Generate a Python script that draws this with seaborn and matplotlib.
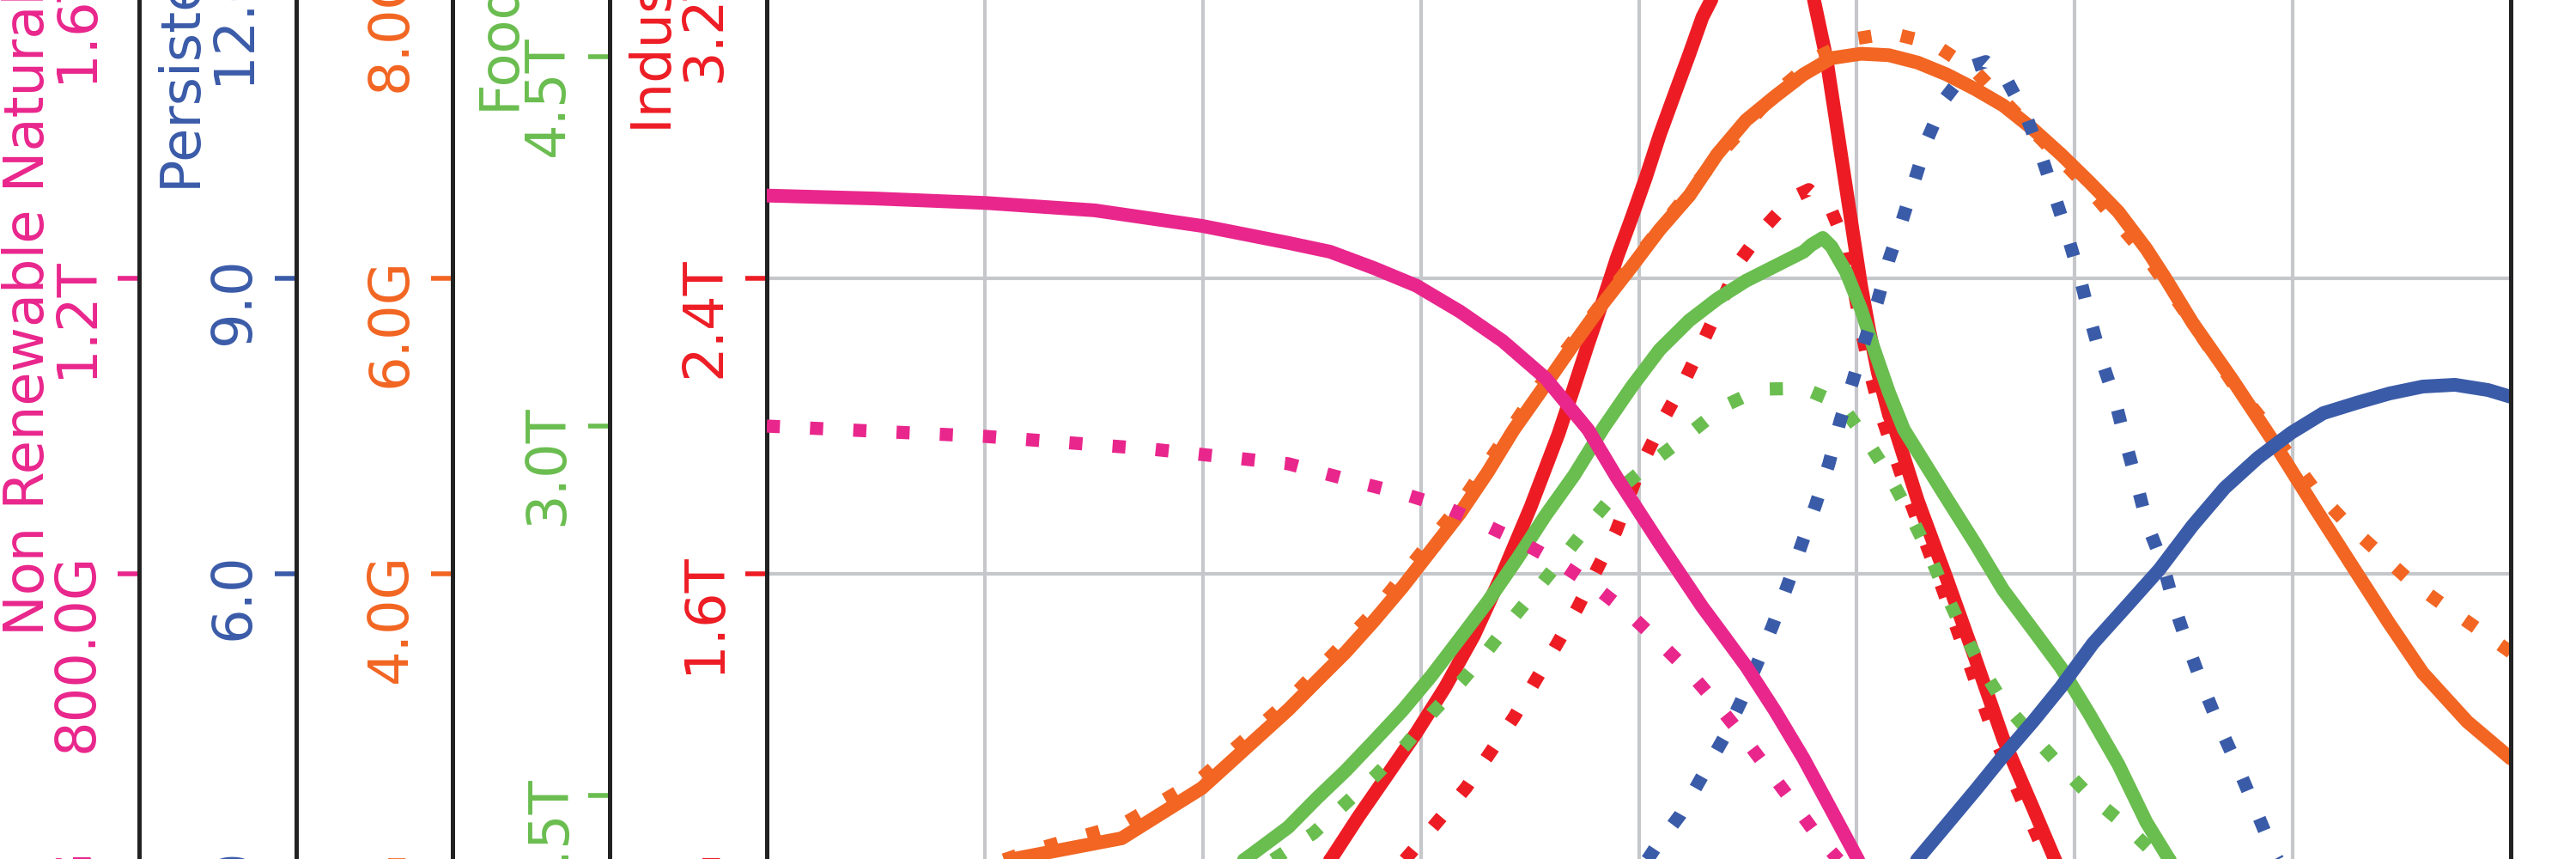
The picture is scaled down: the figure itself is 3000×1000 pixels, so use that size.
import numpy as np
import matplotlib
matplotlib.use("Agg")
import matplotlib.pyplot as plt
import seaborn as sns
from matplotlib.ticker import EngFormatter, MultipleLocator

sns.set_theme(style="white")
plt.rcParams['font.family'] = ['DejaVu Sans']

# industrial output (T$), solid run and dotted run
io_years = [1900, 1925, 1950, 1960, 1964.7, 1967.9, 1971.3, 1974.5, 1977.8, 1981.1, 1984.4, 1987.6,
            1990.8, 1992.6, 1994.2, 1995.9, 1997.5, 1999.2, 2000.8, 2002.4, 2004.1, 2005.8, 2007.3,
            2008.3, 2010, 2012, 2014.5, 2016.5, 2018, 2019, 2020.1, 2021.5, 2022.5, 2023.5, 2024.5,
            2025.5, 2026.4, 2027.4, 2028.7, 2029.4, 2032.0, 2035.3, 2038.6, 2041.8, 2045.2, 2047.7,
            2055, 2065, 2080, 2100]
io_vals = [0.07, 0.15, 0.45, 0.72, 0.828, 0.944, 1.060, 1.170, 1.293, 1.433, 1.602, 1.781,
           1.979, 2.107, 2.223, 2.340, 2.456, 2.565, 2.672, 2.788, 2.898, 3.007, 3.107,
           3.153, 3.26, 3.36, 3.42, 3.43, 3.38, 3.30, 3.153, 2.998, 2.844, 2.688, 2.533,
           2.379, 2.263, 2.147, 2.030, 1.991, 1.798, 1.588, 1.370, 1.153, 0.967, 0.828,
           0.55, 0.35, 0.25, 0.20]
io2_years = [1900, 1925, 1950, 1960, 1970, 1974.1, 1977.2, 1980.2, 1982.9, 1985.7, 1988.1, 1990.6,
             1993.0, 1995.2, 1997.4, 2000.2, 2003.1, 2005.4, 2007.5, 2011.7, 2014.4, 2017.6, 2019.5,
             2022.1, 2023.8, 2024.6, 2025.5, 2026.5, 2027.8, 2031.1, 2034.4, 2037.7, 2040.9, 2044.3,
             2046.8, 2055, 2065, 2080, 2100]
io2_vals = [0.07, 0.13, 0.33, 0.52, 0.74, 0.851, 0.937, 1.021, 1.114, 1.212, 1.309, 1.409,
            1.509, 1.612, 1.716, 1.890, 2.030, 2.130, 2.235, 2.451, 2.537, 2.619, 2.640,
            2.584, 2.486, 2.379, 2.263, 2.147, 2.030, 1.798, 1.588, 1.370, 1.153, 0.967,
            0.828, 0.52, 0.33, 0.24, 0.19]

# food (T)
food_years = [1900, 1925, 1940, 1954.9, 1959.8, 1963.0, 1966.4, 1969.6, 1972.9, 1976.2, 1979.5,
              1982.7, 1986.1, 1989.3, 1992.6, 1995.9, 1999.2, 2002.4, 2005.8, 2009.0, 2012.3,
              2015.6, 2018.9, 2019.8, 2021.1, 2022.1, 2023.8, 2025.5, 2027.0, 2028.7, 2030.4,
              2035.3, 2038.6, 2041.8, 2045.2, 2048.4, 2051.6, 2055.0, 2058.2, 2060.8, 2070,
              2085, 2100]
food_vals = [0.55, 0.75, 0.95, 1.242, 1.371, 1.486, 1.601, 1.720, 1.845, 1.985, 2.138,
             2.288, 2.463, 2.637, 2.801, 2.990, 3.160, 3.310, 3.429, 3.516, 3.590,
             3.649, 3.708, 3.736, 3.764, 3.729, 3.624, 3.474, 3.310, 3.136, 2.986,
             2.707, 2.522, 2.334, 2.173, 2.020, 1.835, 1.626, 1.392, 1.242, 0.90,
             0.65, 0.50]
food2_years = [1900, 1925, 1950, 1962.7, 1966.2, 1969.8, 1973.3, 1976.3, 1979.7, 1982.7, 1985.7,
               1988.8, 1992.0, 1994.9, 1997.7, 2001.9, 2005.8, 2009.7, 2013.9, 2018.9, 2023.1,
               2026.0, 2028.7, 2031.0, 2033.1, 2035.1, 2037.1, 2039.3, 2041.8, 2045.2, 2048.4,
               2051.6, 2055.5, 2059.3, 2070, 2085, 2100]
food2_vals = [0.55, 0.75, 1.05, 1.347, 1.462, 1.580, 1.706, 1.835, 1.964, 2.090, 2.226,
              2.358, 2.498, 2.627, 2.742, 2.864, 2.969, 3.080, 3.150, 3.153, 3.091,
              2.951, 2.801, 2.648, 2.498, 2.330, 2.173, 2.020, 1.877, 1.741, 1.619,
              1.503, 1.388, 1.259, 0.95, 0.70, 0.55]

# population (G)
pop_years = [1900, 1910, 1920, 1928.3, 1940.7, 1949.9, 1959.8, 1963.0, 1966.4, 1969.6, 1972.9,
             1976.2, 1979.5, 1982.7, 1985.6, 1989.3, 1992.6, 1995.9, 1999.2, 2002.4, 2005.8,
             2009.0, 2012.3, 2015.6, 2018.9, 2022.1, 2025.5, 2028.7, 2032.0, 2035.3, 2038.6,
             2041.8, 2045.2, 2048.4, 2051.7, 2055.0, 2058.2, 2060.4, 2063.5, 2068.0, 2072.5,
             2077.5, 2082.4, 2086.0, 2089.9, 2095.0, 2100]
pop_vals = [1.60, 1.75, 1.92, 2.07, 2.21, 2.55, 3.08, 3.27, 3.47, 3.68, 3.91,
            4.16, 4.41, 4.69, 4.97, 5.28, 5.56, 5.83, 6.08, 6.33, 6.56,
            6.84, 7.07, 7.23, 7.38, 7.49, 7.52, 7.51, 7.46, 7.38, 7.28,
            7.17, 7.01, 6.84, 6.65, 6.45, 6.20, 6.00, 5.70, 5.32, 4.92,
            4.45, 4.00, 3.67, 3.33, 3.00, 2.75]
pop2_years = [1900, 1910, 1920, 1930, 1940.7, 1949.9, 1959.8, 1969.6, 1979.5, 1989.3, 1999.2,
              2009.0, 2015.6, 2020.6, 2024.7, 2028.9, 2033.7, 2038.6, 2045.2, 2051.7, 2058.2,
              2063.5, 2068.0, 2072.5, 2077.5, 2081.2, 2088.5, 2092.5, 2096.4, 2100]
pop2_vals = [1.60, 1.75, 1.92, 2.12, 2.30, 2.62, 3.14, 3.74, 4.47, 5.33, 6.10,
             6.82, 7.25, 7.50, 7.62, 7.66, 7.59, 7.40, 7.00, 6.60, 6.15,
             5.70, 5.30, 4.97, 4.57, 4.34, 3.95, 3.78, 3.62, 3.47]

# persistent pollution index
pol_years = [1900, 1950, 1970, 1990, 2000, 2010, 2020, 2025, 2032.0, 2035.3, 2038.6, 2041.8,
             2045.2, 2048.4, 2052.1, 2056.0, 2059.7, 2063.5, 2067.2, 2071.0, 2074.8, 2078.5,
             2082.3, 2086.1, 2089.9, 2093.6, 2097.4, 2100]
pol_vals = [0.03, 0.08, 0.20, 0.45, 0.75, 1.20, 1.90, 2.40, 3.105, 3.453, 3.802, 4.151,
            4.500, 4.849, 5.294, 5.677, 6.044, 6.488, 6.872, 7.177, 7.430, 7.631,
            7.735, 7.831, 7.901, 7.919, 7.866, 7.797]
pol2_years = [1900, 1950, 1970, 1980, 1990, 1995, 2001.9, 2004.8, 2007.2, 2009.7, 2011.7, 2013.6,
              2015.4, 2017.1, 2018.7, 2020.3, 2021.8, 2023.1, 2024.5, 2025.9, 2027.4, 2028.7,
              2030.2, 2031.7, 2033.1, 2035.1, 2037.9, 2039.8, 2042.2, 2044.5, 2046.2, 2047.7,
              2049.2, 2050.6, 2051.8, 2053.1, 2054.6, 2055.8, 2057.1, 2058.3, 2060.1, 2061.4,
              2062.9, 2064.6, 2066.5, 2068.4, 2070.4, 2072.7, 2080, 2090, 2100]
pol2_vals = [0.05, 0.20, 0.55, 1.00, 1.75, 2.30, 3.218, 3.558, 3.933, 4.326, 4.701, 5.093,
             5.485, 5.895, 6.305, 6.706, 7.116, 7.552, 7.945, 8.363, 8.773, 9.192,
             9.584, 10.012, 10.413, 10.823, 11.145, 11.20, 11.015, 10.631, 10.238, 9.837,
             9.427, 9.009, 8.581, 8.163, 7.770, 7.352, 6.924, 6.506, 6.10, 5.68,
             5.29, 4.88, 4.47, 4.10, 3.68, 3.19, 2.00, 1.10, 0.65]

# non renewable natural resources (T)
nr_years = [1900, 1912.5, 1925.1, 1937.6, 1949.9, 1959.8, 1964.6, 1969.6, 1974.5, 1979.5, 1984.4,
            1989.3, 1994.2, 1997.5, 2002.4, 2007.3, 2009.0, 2012.3, 2015.6, 2018.9, 2022.1,
            2025.1, 2030, 2035, 2040, 2050, 2060, 2075, 2100]
nr_vals = [1.312, 1.308, 1.302, 1.292, 1.271, 1.248, 1.236, 1.214, 1.190, 1.155, 1.115,
           1.065, 0.995, 0.930, 0.841, 0.755, 0.728, 0.675, 0.615, 0.550, 0.480,
           0.414, 0.32, 0.24, 0.18, 0.12, 0.09, 0.065, 0.045]
nr2_years = [1900, 1925.1, 1944.0, 1959.8, 1968.4, 1973.1, 1977.7, 1982.2, 1986.7, 1990.8, 1994.9,
             1998.7, 2002.3, 2005.8, 2008.8, 2012.0, 2014.9, 2017.7, 2020.5, 2025, 2030, 2040,
             2050, 2075, 2100]
nr2_vals = [1.000, 0.986, 0.969, 0.949, 0.922, 0.908, 0.891, 0.867, 0.842, 0.815, 0.783,
            0.748, 0.708, 0.667, 0.626, 0.579, 0.534, 0.490, 0.445, 0.385, 0.32, 0.22,
            0.16, 0.09, 0.06]

# host first, then the twin axes going out to the left
names = ["Industrial Output", "Food", "Population", "Persistent Pollution",
         "Non Renewable Natural Resources"]
colors = ["#ED1C24", "#6ABD4F", "#F26522", "#3A5BA8", "#E9268C"]
units = [1e12, 1e12, 1e9, 1.0, 1e12]
y_max = [4e12, 6e12, 10e9, 15, 2e12]
y_step = [0.8e12, 1.5e12, 2e9, 3, 0.4e12]
label_y = [0.698, 0.714, 0.80, 0.658, 0.358]
solid = [(io_years, io_vals), (food_years, food_vals), (pop_years, pop_vals),
         (pol_years, pol_vals), (nr_years, nr_vals)]
dotted = [(io2_years, io2_vals), (food2_years, food2_vals), (pop2_years, pop2_vals),
          (pol2_years, pol2_vals), (nr2_years, nr2_vals)]

dist_spines = 0.09
fig = plt.figure(figsize=(30, 10), dpi=100)
host = fig.add_axes([893 / 3000, -0.356, (2924 - 893) / 3000, 1.72])
axs = [host] + [host.twinx() for _ in range(4)]

for i, ax in enumerate(axs[1:]):
    ax.spines["left"].set_position(("axes", -(i + 1) * dist_spines))
    ax.spines["left"].set_visible(True)
    ax.yaxis.set_label_position("left")
    ax.yaxis.set_ticks_position("left")

for i, ax in enumerate(axs):
    c = colors[i]
    yrs, v = solid[i]
    sns.lineplot(x=yrs, y=np.array(v) * units[i], ax=ax, color=c, linewidth=11.5, legend=False)
    yrs, v = dotted[i]
    sns.lineplot(x=yrs, y=np.array(v) * units[i], ax=ax, color=c, linewidth=11,
                 linestyle=(0, (1, 2.3)), legend=False)
    ax.set_xlim(1900, 2100)
    ax.set_ylim(0, y_max[i])
    ax.yaxis.set_major_locator(MultipleLocator(y_step[i]))
    ax.yaxis.set_major_formatter(EngFormatter(places=1, sep=""))
    ax.tick_params(axis="y", rotation=90, colors=c, labelsize=46, length=18, width=4, pad=12)
    ax.set_ylabel(names[i], color=c, fontsize=46, ha="left", y=label_y[i], labelpad=-4)
    for s in ax.spines.values():
        s.set_color("#222222")
        s.set_linewidth(3.6)
    ax.grid(False)

host.xaxis.set_major_locator(MultipleLocator(25))
host.tick_params(axis="x", labelsize=46)
host.grid(True, color="#c6c7cb", linewidth=3)

fig.savefig("out.png", dpi=100)
